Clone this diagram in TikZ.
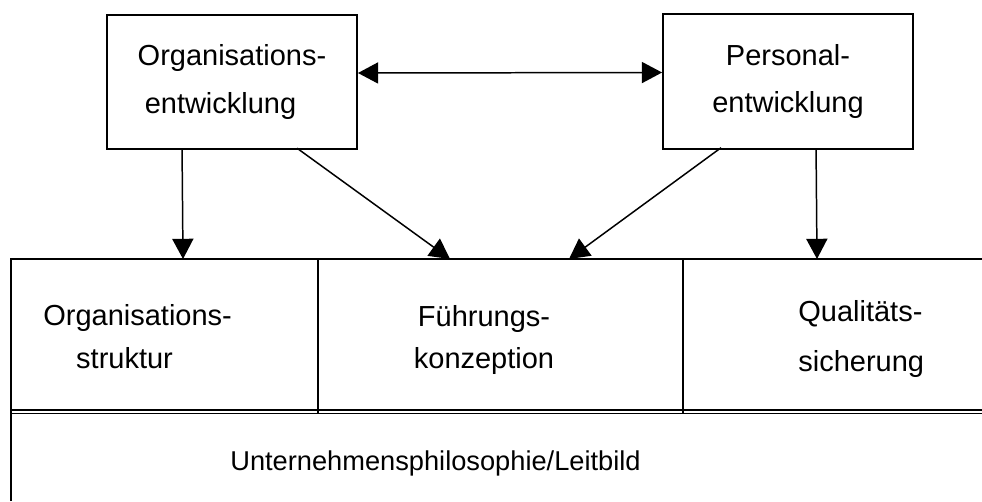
\documentclass[tikz,border=0pt]{standalone}
\usepackage{fontspec}
\setmainfont{Liberation Sans}
\usetikzlibrary{arrows.meta, calc}

\begin{document}
\begin{tikzpicture}[x=0.02cm, y=-0.02cm,
    >={Triangle[length=11.5pt, width=12pt]},
    box/.style = {draw, line width=1.1pt, minimum width=5cm, minimum height=2.69cm},
    testo/.style = {font=\fontsize{16.5}{27.2}\selectfont, align=left, inner sep=0pt},
    freccia/.style = {line width=0.85pt, ->},
    cornice/.style = {line width=1.2pt},
    doppia/.style = {line width=0.6pt}]
    \useasboundingbox (0,0) rectangle (982,501);
    % Riquadri in alto
    \node[box, testo] (oe) at (232,82) {Organisations-\\\hspace*{4pt}entwicklung};
    \node[box, testo, align=center] (pe) at (788,81.5) {Personal-\\entwicklung};
    % Base
    \draw[cornice] (11,501) -- (11,259) -- (982,259);
    \draw[cornice] (318,259) -- (318,413);
    \draw[cornice] (683,259) -- (683,413);
    \draw[doppia] (11,410) -- (982,410);
    \draw[doppia] (11,413.5) -- (982,413.5);
    \node[testo, anchor=west] (os) at (43,337) {Organisations-\\[-2.8pt]\hspace*{18.7pt}struktur};
    \node[testo, align=center] (fk) at (484,340) {Führungs-\\[-2.8pt]konzeption};
    \node[testo, anchor=west] (qs) at (798,339) {Qualitäts-\\[1.3pt]sicherung};
    \node[testo, font=\fontsize{15.5}{27.2}\selectfont, anchor=base west] (ul) at (230,470) {Unternehmensphilosophie/Leitbild};
    % Frecce
    \coordinate (e1) at (183,259);
    \coordinate (e2) at (450,259);
    \coordinate (e3) at (569,259);
    \coordinate (e4) at (817,259);
    \draw[freccia] ($(oe.south west)+(76,0)$) -- (e1);
    \draw[freccia] ($(oe.south west)+(191,-2)$) -- (e2);
    \draw[freccia] ($(pe.south west)+(59,-2)$) -- (e3);
    \draw[freccia] ($(pe.south west)+(154,0)$) -- (e4);
    \draw[freccia, <->] ($(oe.east)+(0,-9)$) -- ($(pe.west)+(0,-9)$);
\end{tikzpicture}
\end{document}
